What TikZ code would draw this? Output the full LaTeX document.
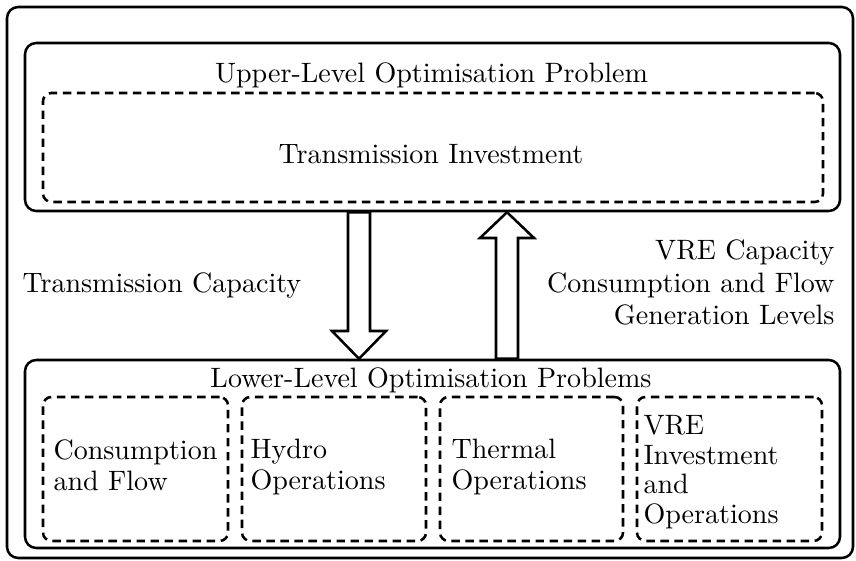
\documentclass[tikz,border=0pt]{standalone}
\usetikzlibrary{calc}
\tikzset{
  solidbox/.style={draw, line width=0.9pt, rounded corners=4pt, inner sep=0pt},
  dashbox/.style={draw, line width=0.9pt, rounded corners=3pt, dash pattern=on 3pt off 2pt, inner sep=0pt},
  lbl/.style={inner sep=0pt, font=\fontsize{10}{12}\selectfont},
  bt/.style={inner sep=0pt, anchor=west, text width=60pt, align=left, font=\fontsize{10}{11}\selectfont},
  barrow/.style={draw, line width=0.9pt, fill=white, line join=miter}
}
\begin{document}
\begin{tikzpicture}[x=0.3565pt, y=-0.3565pt]
\useasboundingbox (0,0) rectangle (856,561);
% boxes
\node[solidbox, minimum width={846*0.3565pt}, minimum height={551*0.3565pt}] (outer) at (430,282.5) {};
\node[solidbox, minimum width={815*0.3565pt}, minimum height={168*0.3565pt}] (upper) at (432.5,127) {};
\node[dashbox, minimum width={780*0.3565pt}, minimum height={109*0.3565pt}] (upin) at (433,147.5) {};
\node[solidbox, minimum width={815*0.3565pt}, minimum height={188*0.3565pt}] (lower) at (432.5,454) {};
\node[dashbox, minimum width={185*0.3565pt}, minimum height={144*0.3565pt}] (b1) at (135.5,469) {};
\node[dashbox, minimum width={184*0.3565pt}, minimum height={144*0.3565pt}] (b2) at (334,469) {};
\node[dashbox, minimum width={183*0.3565pt}, minimum height={144*0.3565pt}] (b3) at (531.5,469) {};
\node[dashbox, minimum width={185*0.3565pt}, minimum height={144*0.3565pt}] (b4) at (729.5,469) {};
% titles and labels
\node[lbl, anchor=base] (uptitle) at (431.5,83) {Upper-Level Optimisation Problem};
\node[lbl, anchor=base] (tinv) at (431,164) {Transmission Investment};
\node[lbl, anchor=base] (lowtitle) at (431,388) {Lower-Level Optimisation Problems};
\node[lbl, anchor=base west] (tcap) at (22,293) {Transmission Capacity};
\node[lbl, align=right, anchor=east, font=\fontsize{10}{11.5}\selectfont] (vrecap) at (835,282.5) {VRE Capacity\\Consumption and Flow\\Generation Levels};
% box texts
\node[bt] (t1) at (53,465.5) {Consumption\\and Flow};
\node[bt] (t2) at (250,467) {Hydro\\Operations};
\node[bt] (t3) at (451,467) {Thermal\\Operations};
\node[bt, font=\fontsize{10}{10.5}\selectfont] (t4) at (643,472) {VRE\\Investment\\and\\Operations};
% block arrows
\draw[barrow] (348,0 |- upper.south) -- (348,331) -- (332,331) -- (359,0 |- lower.north) -- (386,331) -- (370,331) -- (370,0 |- upper.south) -- cycle;
\draw[barrow] (496,0 |- lower.north) -- (496,238) -- (480,238) -- (507,0 |- upper.south) -- (534,238) -- (518,238) -- (518,0 |- lower.north) -- cycle;
\end{tikzpicture}
\end{document}
